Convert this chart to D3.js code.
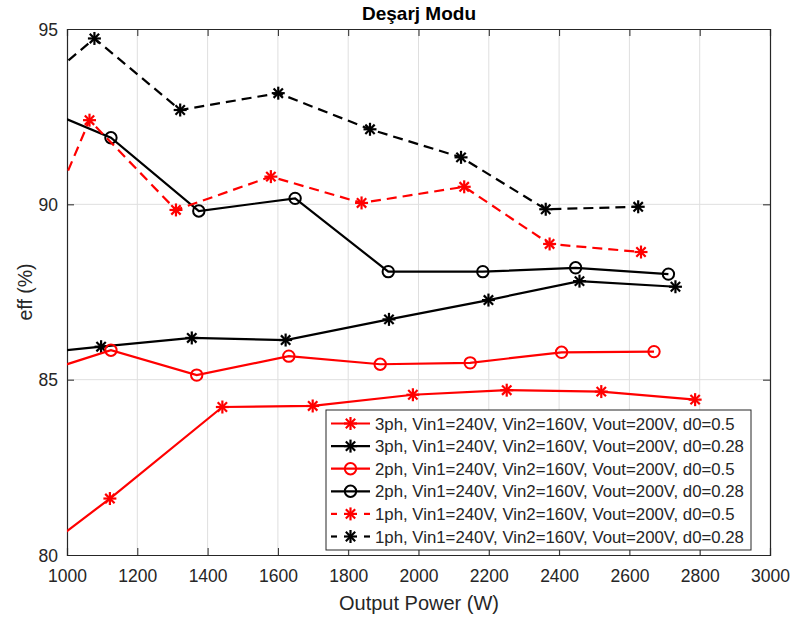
<!DOCTYPE html>
<html><head><meta charset="utf-8">
<script src="https://cdn.jsdelivr.net/npm/d3@7"></script>
<style>body{margin:0;background:#fff}svg{display:block;font-family:"Liberation Sans",Arial,sans-serif}</style>
</head><body><svg id="c" width="795" height="619"></svg>
<script>
const xTicks = [1000,1200,1400,1600,1800,2000,2200,2400,2600,2800,3000];
const yTicks = [80,85,90,95];
const labels = [
 "3ph, Vin1=240V, Vin2=160V, Vout=200V, d0=0.5",
 "3ph, Vin1=240V, Vin2=160V, Vout=200V, d0=0.28",
 "2ph, Vin1=240V, Vin2=160V, Vout=200V, d0=0.5",
 "2ph, Vin1=240V, Vin2=160V, Vout=200V, d0=0.28",
 "1ph, Vin1=240V, Vin2=160V, Vout=200V, d0=0.5",
 "1ph, Vin1=240V, Vin2=160V, Vout=200V, d0=0.28"];
const colors = ["#ff0000","#000000","#ff0000","#000000","#ff0000","#000000"];
const markers = ["star","star","circle","circle","star","star"];
const dashed = [false,false,false,false,true,true];
const p3_05x = [900,1122,1442,1699,1984,2251,2520,2787];
const p3_05y = [79.92,81.61,84.22,84.25,84.57,84.70,84.66,84.43];
const p3_028x = [900,1097,1355,1622,1916,2199,2458,2731];
const p3_028y = [85.74,85.94,86.19,86.13,86.72,87.27,87.81,87.65];
const p2_05x = [900,1125,1369,1631,1891,2147,2407,2670];
const p2_05y = [85.12,85.84,85.13,85.67,85.44,85.48,85.78,85.80];
const p2_028x = [900,1125,1375,1649,1914,2183,2447,2711];
const p2_028y = [92.85,91.90,89.81,90.17,88.08,88.08,88.19,88.01];
const p1_05x = [950,1064,1310,1580,1838,2130,2373,2633];
const p1_05y = [89.70,92.40,89.84,90.79,90.04,90.50,88.87,88.64];
const p1_028x = [900,1078,1322,1601,1862,2121,2362,2625];
const p1_028y = [93.22,94.73,92.69,93.17,92.14,91.34,89.86,89.93];
const seriesX = [p3_05x,p3_028x,p2_05x,p2_028x,p1_05x,p1_028x];
const seriesY = [p3_05y,p3_028y,p2_05y,p2_028y,p1_05y,p1_028y];

const L=67,T=29,R=770,B=555;
const svg=d3.select("#c");
const x=d3.scaleLinear().domain([1000,3000]).range([L,R]);
const y=d3.scaleLinear().domain([80,95]).range([B,T]);
const ax="#262626";
const FF="Liberation Sans,Arial,sans-serif";

// grid
svg.append("g").selectAll("line").data(xTicks.slice(1,-1)).join("line")
 .attr("x1",d=>x(d)).attr("x2",d=>x(d)).attr("y1",T).attr("y2",B)
 .attr("stroke","#dfdfdf").attr("stroke-width",1);
svg.append("g").selectAll("line").data(yTicks.slice(1,-1)).join("line")
 .attr("y1",d=>y(d)).attr("y2",d=>y(d)).attr("x1",L).attr("x2",R)
 .attr("stroke","#dfdfdf").attr("stroke-width",1);

// axes
const gx=svg.append("g").attr("transform",`translate(0,${B})`)
 .call(d3.axisBottom(x).tickValues(xTicks).tickSize(-7).tickPadding(15).tickFormat(d3.format("d")));
const gy=svg.append("g").attr("transform",`translate(${L},0)`)
 .call(d3.axisLeft(y).tickValues(yTicks).tickSize(-7).tickPadding(9));
const gx2=svg.append("g").attr("transform",`translate(0,${T})`)
 .call(d3.axisTop(x).tickValues(xTicks).tickSize(-7).tickFormat(""));
const gy2=svg.append("g").attr("transform",`translate(${R},0)`)
 .call(d3.axisRight(y).tickValues(yTicks).tickSize(-7).tickFormat(""));
[gx,gy,gx2,gy2].forEach(g=>{
 g.attr("font-size",null).attr("font-family",null);
 g.selectAll("path").attr("stroke",ax).attr("stroke-width",1.2);
 g.selectAll("line").attr("stroke",ax);
 g.selectAll("text").attr("fill",ax).style("font-size","17.5px").style("font-family",FF);
});
gy.selectAll(".tick text").attr("dy","0.35em");

svg.append("clipPath").attr("id","clip").append("rect").attr("x",L).attr("y",T).attr("width",R-L).attr("height",B-T);

function star(g,cx,cy,c,s){
 const r=s;
 const p=[[0,-r,0,r],[-r,0,r,0],[-r*0.72,-r*0.72,r*0.72,r*0.72],[-r*0.72,r*0.72,r*0.72,-r*0.72]];
 p.forEach(a=>g.append("line").attr("x1",cx+a[0]).attr("y1",cy+a[1]).attr("x2",cx+a[2]).attr("y2",cy+a[3]).attr("stroke",c).attr("stroke-width",2.2));
}
function mark(g,type,cx,cy,c){
 if(type==="star") star(g,cx,cy,c,6.5);
 else g.append("circle").attr("cx",cx).attr("cy",cy).attr("r",5.7).attr("fill","none").attr("stroke",c).attr("stroke-width",2);
}
const line=d3.line().x(d=>x(d[0])).y(d=>y(d[1]));
seriesX.forEach((xs,i)=>{
 const pts=xs.map((v,j)=>[v,seriesY[i][j]]);
 svg.append("path").datum(pts).attr("d",line).attr("fill","none").attr("stroke",colors[i])
  .attr("stroke-width",2.2).attr("stroke-dasharray",dashed[i]?"10,6":null).attr("clip-path","url(#clip)");
 const g=svg.append("g");
 pts.filter(p=>p[0]>=1000&&p[1]>=80&&p[1]<=95).forEach(p=>mark(g,markers[i],x(p[0]),y(p[1]),colors[i]));
});

// legend
const lg=svg.append("g");
lg.append("rect").attr("x",326).attr("y",410).attr("width",425).attr("height",140).attr("fill","#fff").attr("stroke",ax).attr("stroke-width",1);
labels.forEach((t,i)=>{
 const cy=423.5+i*22.6;
 const c=colors[i];
 if(dashed[i]){
  lg.append("line").attr("x1",331).attr("x2",337).attr("y1",cy).attr("y2",cy).attr("stroke",c).attr("stroke-width",2.2);
  lg.append("line").attr("x1",364).attr("x2",370).attr("y1",cy).attr("y2",cy).attr("stroke",c).attr("stroke-width",2.2);
 } else {
  lg.append("line").attr("x1",331).attr("x2",370).attr("y1",cy).attr("y2",cy).attr("stroke",c).attr("stroke-width",2.2);
 }
 mark(lg,markers[i],350.5,cy,c);
 lg.append("text").attr("x",375).attr("y",cy).attr("dy","0.36em").style("font-size","16.8px").attr("fill",ax).text(t);
});

svg.append("text").attr("x",419).attr("y",20).attr("text-anchor","middle").attr("font-weight","bold").style("font-size","19px").attr("fill","#000").text("Deşarj Modu");
svg.append("text").attr("x",419).attr("y",610).attr("text-anchor","middle").style("font-size","20px").attr("fill",ax).text("Output Power (W)");
svg.append("text").attr("transform","translate(32,292) rotate(-90)").attr("text-anchor","middle").style("font-size","19.5px").attr("fill",ax).text("eff (%)");
</script></body></html>
